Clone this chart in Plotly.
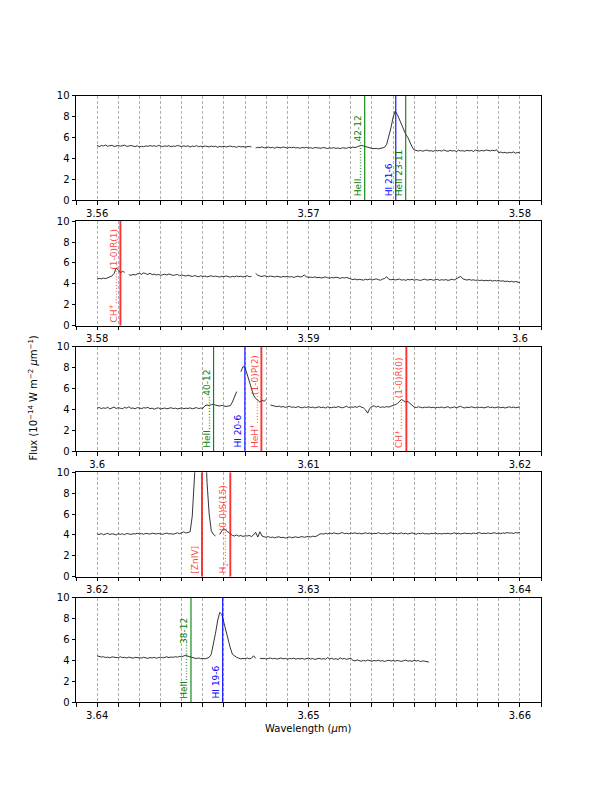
import numpy as np
import plotly.graph_objects as go

# ---------------- data ----------------
step = 0.0001
panel_starts = [3.56, 3.58, 3.60, 3.62, 3.64]
tick_labels = [["3.56", "3.57", "3.58"], ["3.58", "3.59", "3.6"], ["3.6", "3.61", "3.62"],
               ["3.62", "3.63", "3.64"], ["3.64", "3.65", "3.66"]]
y_ticks = [0, 2, 4, 6, 8, 10]

flux_1 = [5.25, 5.12, 5.22, 5.18, 5.27, 5.15, 5.21, 5.24, 5.13, 5.19, 5.23, 5.16, 5.2, 5.26, 5.14, 5.18, 5.22, 5.17, 5.12, 5.2,
          5.08, 5.15, 5.11, 5.19, 5.14, 5.22, 5.16, 5.2, 5.13, 5.24, 5.17, 5.12, 5.19, 5.15, 5.21, 5.1, 5.18, 5.14, 5.23, 5.16,
          5.12, 5.19, 5.14, 5.2, 5.08, 5.17, 5.13, 5.21, 5.11, 5.16, 5.1, 5.18, 5.13, 5.09, 5.17, 5.12, 5.15, 5.06, 5.14, 5.1,
          5.16, 5.08, 5.13, 5.18, 5.1, 5.12, 5.05, 5.15, 5.09, 5.13, 5.07, 5.11, 5.14, 5.08,
          None,
          4.98, 5.06, 5.02, 5.1, 4.99, 5.04, 5.08, 5.01, 5.05, 4.97, 5.07, 5.03, 5.0, 5.09, 5.02, 4.98, 5.05, 5.01, 5.06, 4.99, 5.03, 4.96, 5.04, 5.0, 5.05,
          4.98, 5.02, 4.95, 5.03, 4.99, 5.01, 4.96, 5.04, 4.98, 4.94, 5.0, 4.97, 5.02, 4.95, 4.99, 4.93, 5.01, 4.97, 4.96, 5.05, 4.99, 5.08, 5.02, 5.1, 5.15,
          5.25, 5.18, 5.12, 5.02, 4.98, 4.95, 4.92, 4.96, 4.9, 4.94, 4.97, 5.05,
          5.35, 6.1, 6.9, 7.9, 8.5, 8.2, 7.7, 7.3, 6.8, 6.3, 6.0, 5.5, 5.1, 4.8, 4.72,
          4.7, 4.76, 4.68, 4.74, 4.79, 4.7, 4.73, 4.66, 4.78, 4.71, 4.75, 4.69, 4.8, 4.72, 4.67, 4.76, 4.7, 4.74, 4.65, 4.78,
          4.7, 4.73, 4.68, 4.77, 4.71, 4.75, 4.66, 4.79, 4.72, 4.69, 4.76, 4.7, 4.8, 4.74, 4.71, 4.77, 4.73, 4.82,
          4.55, 4.6, 4.52, 4.58, 4.5, 4.57, 4.53, 4.61, 4.49, 4.56, 4.52]

flux_2 = [4.45, 4.52, 4.48, 4.55, 4.5, 4.58, 4.62, 4.75, 5.0,
          5.5, 5.35, 5.05, 5.2, 5.1,
          None,
          4.88, 4.82, 4.9, 4.85, 4.95, 5.0, 4.92, 5.05, 4.97, 4.9, 5.02, 4.88, 4.93, 4.85, 4.9, 4.82, 4.87, 4.92, 4.84, 4.95, 4.88, 4.8, 4.86, 4.9, 4.78, 4.85,
          4.8, 4.74, 4.83, 4.76, 4.7, 4.79, 4.73, 4.68, 4.77, 4.71, 4.75, 4.66, 4.72, 4.78, 4.69, 4.74, 4.7, 4.65, 4.73, 4.68, 4.76, 4.7, 4.64, 4.72, 4.67, 4.75, 4.69, 4.73, 4.66, 4.71, 4.78, 4.68, 4.72,
          None,
          5.0, 4.82, 4.75, 4.7, 4.78, 4.72, 4.68, 4.75, 4.7, 4.66, 4.73, 4.69, 4.64, 4.71, 4.67, 4.73, 4.65, 4.7, 4.62, 4.68, 4.74, 4.66, 4.7, 4.85, 4.68, 4.62,
          4.65, 4.6, 4.67, 4.58, 4.63, 4.56, 4.62, 4.66, 4.59, 4.55, 4.61, 4.57, 4.64, 4.58, 4.53, 4.6, 4.56, 4.62, 4.57,
          4.45, 4.4, 4.47, 4.38, 4.43, 4.41, 4.36, 4.44, 4.39, 4.46, 4.37, 4.42, 4.48, 4.4, 4.35, 4.45, 4.52, 4.68, 4.45, 4.39,
          4.43, 4.37, 4.41, 4.46, 4.36, 4.4, 4.34, 4.42, 4.38, 4.44, 4.35, 4.41, 4.37, 4.33, 4.4, 4.45, 4.36, 4.39, 4.42, 4.35,
          4.38, 4.43, 4.34, 4.4, 4.36, 4.41, 4.33, 4.38, 4.44, 4.37, 4.5, 4.62, 4.72, 4.48, 4.4, 4.36, 4.42, 4.35, 4.39, 4.33,
          4.37, 4.31, 4.36, 4.29, 4.34, 4.3, 4.35, 4.27, 4.32, 4.28, 4.33, 4.25, 4.3, 4.22, 4.27, 4.2, 4.24, 4.18, 4.22, 4.15, 4.12]

flux_3 = [4.12, 4.18, 4.08, 4.15, 4.1, 4.2, 4.05, 4.13, 4.22, 4.09, 4.16, 4.11, 4.07, 4.19, 4.12, 4.25, 4.1, 4.14, 4.06, 4.17,
          4.11, 4.08, 4.16, 4.13, 4.2, 4.07, 4.12, 4.02, 4.1, 4.15, 4.04, 4.09, 4.13, 4.06, 4.11, 4.16, 4.08, 4.12, 4.05, 4.1,
          4.14, 4.07, 4.12, 4.09, 4.15, 4.06, 4.11, 4.17, 4.08, 4.13, 4.1,
          4.35, 4.42, 4.38, 4.45, 4.5, 4.4, 4.36, 4.33, 4.38, 4.3, 4.28, 4.32, 4.35,
          4.7, 5.2, 5.7,
          None,
          7.6, 8.1, 8.0, 7.3, 6.5, 5.85, 5.35, 5.05, 4.85, 4.7, 4.88, 4.78, 4.95,
          None,
          4.42, 4.35, 4.3, 4.26, 4.32, 4.22, 4.28, 4.19, 4.25, 4.3, 4.2, 4.24, 4.17, 4.27, 4.21, 4.15, 4.23, 4.19, 4.26, 4.18,
          4.22, 4.14, 4.2, 4.25, 4.17, 4.21, 4.13, 4.24, 4.19, 4.16, 4.23, 4.18, 4.27, 4.2, 4.15, 4.22, 4.3, 4.18, 4.24, 4.2,
          4.26, 4.19, 4.32, 4.22, 4.15, 3.95, 3.65, 4.1, 4.28, 4.35, 4.22, 4.3, 4.18, 4.25, 4.2, 4.27, 4.22, 4.3, 4.35, 4.45,
          4.55, 4.8, 4.94, 4.82, 4.7, 4.76, 4.55, 4.35, 4.22, 4.18, 4.25, 4.2, 4.15, 4.22, 4.18, 4.24, 4.16, 4.21, 4.14, 4.2,
          4.17, 4.23, 4.15, 4.2, 4.26, 4.13, 4.19, 4.24, 4.16, 4.21, 4.3, 4.18, 4.14, 4.22, 4.17, 4.25, 4.19, 4.15, 4.23, 4.18,
          4.21, 4.14, 4.2, 4.26, 4.17, 4.22, 4.15, 4.19, 4.24, 4.16, 4.21, 4.13, 4.19, 4.25, 4.17, 4.22, 4.16, 4.2, 4.24]

flux_4 = [4.1, 4.05, 4.13, 4.02, 4.09, 4.15, 4.04, 4.11, 4.07, 4.0, 4.12, 4.06, 4.1, 4.03, 4.14, 4.08, 4.05, 4.12, 4.09, 4.16,
          4.1, 4.13, 4.07, 4.15, 4.11, 4.08, 4.17, 4.12, 4.09, 4.14, 4.1, 4.06, 4.13, 4.18, 4.09, 4.12, 4.07, 4.15, 4.2, 4.11,
          4.22, 4.3, 4.18, 4.25,
          4.3, 5.8, 8.0, 11.0, 17.0, 20.0, 19.0, 14.0, 9.0, 6.0, 4.4, 4.05, 3.9,
          None,
          4.05, 4.4, 4.6, 4.45, 4.3, 4.15, 3.95, 3.9, 4.0, 3.88, 3.95, 3.85, 3.92,
          3.9, 3.95, 3.85, 4.0, 4.25, 3.8, 4.3, 3.9,
          3.82, 3.78, 3.85, 3.75, 3.8, 3.72, 3.79, 3.83, 3.74, 3.78, 3.7, 3.76, 3.81, 3.73, 3.77, 3.82, 3.75, 3.79, 3.84, 3.78, 3.81, 3.86, 3.8, 3.88, 3.84, 3.9,
          4.05, 4.12, 4.08, 4.15, 4.1, 4.18, 4.12, 4.2, 4.14, 4.1, 4.17, 4.22, 4.13, 4.16, 4.11, 4.19, 4.14, 4.21, 4.12, 4.17,
          4.1, 4.15, 4.2, 4.13, 4.18, 4.09, 4.16, 4.12, 4.22, 4.14, 4.11, 4.17, 4.08, 4.15, 4.2, 4.12, 4.16, 4.1, 4.14, 4.19,
          4.11, 4.16, 4.09, 4.14, 4.2, 4.12, 4.07, 4.15, 4.11, 4.18, 4.1, 4.13, 4.08, 4.16, 4.12, 4.19, 4.1, 4.14, 4.09, 4.15,
          4.12, 4.17, 4.1, 4.14, 4.2, 4.11, 4.16, 4.09, 4.13, 4.18, 4.12, 4.15, 4.1, 4.19, 4.13, 4.16, 4.22, 4.12, 4.17, 4.14,
          4.19, 4.13, 4.16, 4.21, 4.14, 4.18, 4.12, 4.2, 4.15, 4.23, 4.17, 4.2, 4.14, 4.22, 4.18, 4.25]

flux_5 = [4.44, 4.38, 4.33, 4.36, 4.28, 4.32, 4.25, 4.34, 4.29, 4.31, 4.26, 4.35, 4.28, 4.3, 4.24, 4.32, 4.27, 4.22, 4.3, 4.26,
          4.29, 4.23, 4.31, 4.25, 4.2, 4.28, 4.24, 4.3, 4.22, 4.27, 4.32, 4.25, 4.29, 4.35, 4.28, 4.33, 4.3, 4.36, 4.32, 4.38, 4.35,
          4.45, 4.52, 4.4, 4.35, 4.3, 4.22, 4.18, 4.24, 4.17, 4.2, 4.15, 4.22, 4.3,
          4.6, 5.5, 6.6, 7.8, 8.6, 8.4, 7.6, 6.7, 5.9, 5.2, 4.6, 4.4, 4.3,
          4.22, 4.15, 4.2, 4.17, 4.24, 4.16, 4.21, 4.45, 4.2,
          None,
          4.22, 4.17, 4.2, 4.14, 4.19, 4.23, 4.16, 4.21, 4.13, 4.18, 4.24, 4.15, 4.2, 4.12, 4.19, 4.16, 4.22, 4.13, 4.18, 4.15,
          4.2, 4.12, 4.17, 4.23, 4.14, 4.19, 4.1, 4.16, 4.21, 4.13, 4.18, 4.11, 4.27, 4.15, 4.2, 4.12, 4.17, 4.09, 4.25, 4.14,
          4.19, 4.11, 4.16, 4.22,
          4.02, 3.96, 4.05, 3.98, 3.93, 4.01, 3.95, 4.04, 3.97, 3.92, 4.0, 3.96, 4.03, 3.94, 3.99, 3.9, 3.98, 4.02, 3.95, 3.99,
          3.93, 4.0, 3.96, 3.91, 3.98, 4.03, 3.94, 3.97, 3.92, 4.01, 3.95, 3.99, 3.9, 3.96, 3.93, 3.88, 3.85]

fluxes = [flux_1, flux_2, flux_3, flux_4, flux_5]

# spectral lines: wavelength, label, family
lines_wl_1 = [3.57266, 3.57413, 3.57460]
lines_lab_1 = ["HeII.............42-12", "HI 21-6", "HeII 23-11"]
lines_fam_1 = ["HeII", "HI", "HeII"]

lines_wl_2 = [3.58110]
lines_lab_2 = ["CH<sup>+</sup>............(1-0)R(1)"]
lines_fam_2 = ["mol"]

lines_wl_3 = [3.60551, 3.60699, 3.60777, 3.61463]
lines_lab_3 = ["HeII............40-12", "HI 20-6", "HeH<sup>+</sup>..........(1-0)P(2)", "CH<sup>+</sup>...........(1-0)R(0)"]
lines_fam_3 = ["HeII", "HI", "mol", "mol"]

lines_wl_4 = [3.62496, 3.62630]
lines_lab_4 = ["[ZnIV]", "H<sub>2</sub>...........(0-0)S(15)"]
lines_fam_4 = ["mol", "mol"]

lines_wl_5 = [3.64444, 3.64594]
lines_lab_5 = ["HeII.............38-12", "HI 19-6"]
lines_fam_5 = ["HeII", "HI"]

lines_wl = [lines_wl_1, lines_wl_2, lines_wl_3, lines_wl_4, lines_wl_5]
lines_lab = [lines_lab_1, lines_lab_2, lines_lab_3, lines_lab_4, lines_lab_5]
lines_fam = [lines_fam_1, lines_fam_2, lines_fam_3, lines_fam_4, lines_fam_5]

# ---------------- styles ----------------
line_color = {"HeII": "#008000", "HI": "#0000ff", "mol": "rgba(255,0,0,0.8)"}
text_color = {"HeII": "#008000", "HI": "#0000ff", "mol": "rgba(255,30,30,0.85)"}
line_width = {"HeII": 1.1, "HI": 1.1, "mol": 1.9}
FONT = "DejaVu Sans"

W, H = 600, 788
DX, DY = 7, 7  # page offset compensation (pixels)

fig = go.Figure()
layout = dict(
    width=W, height=H,
    margin=dict(l=0, r=0, t=0, b=0, autoexpand=False),
    paper_bgcolor="white", plot_bgcolor="white",
    showlegend=False,
    font=dict(family=FONT, size=10, color="black"),
)

n = 5
h = 0.77 / (n + 0.2 * (n - 1))
g = 0.2 * h
annotations = []
shapes = []
for k in range(n):
    start = panel_starts[k]
    top = 0.88 - k * (h + g) + DY / H
    bot = top - h
    xa = "xaxis" if k == 0 else f"xaxis{k+1}"
    ya = "yaxis" if k == 0 else f"yaxis{k+1}"
    xr = "x" if k == 0 else f"x{k+1}"
    yr = "y" if k == 0 else f"y{k+1}"
    flux = fluxes[k]
    wl = [round(start + i * step, 5) for i in range(len(flux))]
    fig.add_trace(go.Scatter(x=wl, y=flux, mode="lines",
                             line=dict(color="black", width=0.8),
                             xaxis=xr, yaxis=yr, connectgaps=False, hoverinfo="skip"))
    tv = [start, round(start + 0.01, 3), round(start + 0.02, 3)]
    layout[xa] = dict(
        domain=[(75 - DX) / W, (540 - DX) / W], anchor=yr, range=[start - 0.001, start + 0.021],
        automargin=False,
        tickmode="array", tickvals=tv, ticktext=tick_labels[k],
        ticks="outside", ticklen=3.5, tickwidth=0.8, tickcolor="black",
        showline=True, mirror=True, linecolor="black", linewidth=1,
        showgrid=True, gridcolor="#b0b0b0", gridwidth=0.8, griddash="3px,2px",
        zeroline=False, tickfont=dict(size=10, family=FONT),
        minor=dict(tickmode="linear", tick0=start, dtick=0.001, ticks="outside",
                   ticklen=3.5, tickwidth=0.8, tickcolor="black",
                   showgrid=True, gridcolor="#b0b0b0", gridwidth=0.8, griddash="3px,2px"),
    )
    layout[ya] = dict(
        domain=[bot, top], anchor=xr, range=[0, 10],
        automargin=False,
        tickmode="array", tickvals=y_ticks,
        ticks="outside", ticklen=3.5, tickwidth=0.8, tickcolor="black",
        showline=True, mirror=True, linecolor="black", linewidth=1,
        showgrid=False, zeroline=False, tickfont=dict(size=10, family=FONT),
    )
    for wlv, lab, fam in zip(lines_wl[k], lines_lab[k], lines_fam[k]):
        shapes.append(dict(type="line", xref=xr, yref=yr, x0=wlv, x1=wlv, y0=0, y1=10,
                           line=dict(color=line_color[fam], width=line_width[fam]), layer="above"))
        annotations.append(dict(xref=xr, yref=yr, x=wlv, y=0.25, text=lab, textangle=-90,
                                xanchor="right", yanchor="bottom", showarrow=False,
                                borderpad=0, xshift=-0.5,
                                font=dict(family=FONT, size=9, color=text_color[fam])))

annotations.append(dict(xref="paper", yref="paper", x=(31 - DX) / W, y=(H - 397.5 + DY) / H,
                        text="Flux (10<sup>\u221214</sup> W m<sup>\u22122</sup> <i>\u03bc</i>m<sup>\u22121</sup>)",
                        textangle=-90, showarrow=False, xanchor="center", yanchor="middle",
                        font=dict(family=FONT, size=10, color="black")))
annotations.append(dict(xref="paper", yref="paper", x=(307.5 - DX) / W, y=(H - 727 + DY) / H,
                        text="Wavelength (<i>\u03bc</i>m)", showarrow=False,
                        xanchor="center", yanchor="middle",
                        font=dict(family=FONT, size=10, color="black")))
layout["annotations"] = annotations
layout["shapes"] = shapes
fig.update_layout(**layout)
fig.write_html("out.html")
